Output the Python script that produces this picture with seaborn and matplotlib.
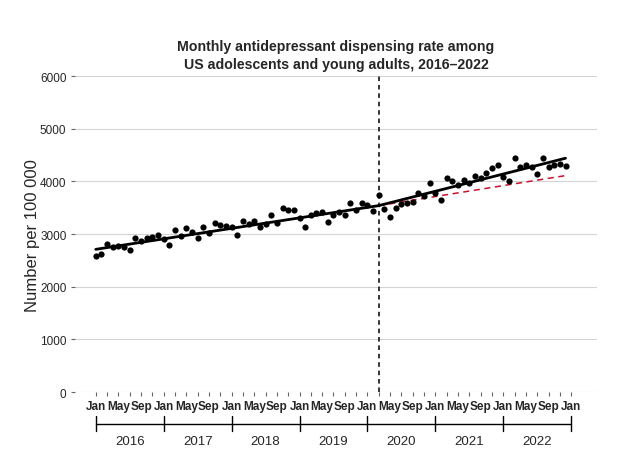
import numpy as np
import pandas as pd
import seaborn as sns
import matplotlib.pyplot as plt

# monthly dispensing rate per 100 000
rate_2016 = [2583, 2615, 2810, 2748, 2780, 2760, 2697, 2919, 2862, 2925, 2950, 2987]
rate_2017 = [2912, 2791, 3085, 2956, 3114, 3033, 2928, 3140, 3017, 3203, 3171, 3159]
rate_2018 = [3140, 2990, 3253, 3197, 3241, 3143, 3190, 3370, 3206, 3500, 3465, 3450]
rate_2019 = [3304, 3140, 3361, 3405, 3424, 3234, 3361, 3424, 3361, 3589, 3462, 3589]
rate_2020 = [3557, 3431, 3744, 3470, 3330, 3494, 3570, 3589, 3614, 3779, 3716, 3963]
rate_2021 = [3773, 3646, 4070, 4001, 3931, 4032, 3969, 4096, 4064, 4150, 4248, 4311]
rate_2022 = [4089, 4007, 4450, 4279, 4311, 4279, 4140, 4444, 4267, 4311, 4330, 4298]

years = ['2016', '2017', '2018', '2019', '2020', '2021', '2022']
month_labels = ['Jan', 'May', 'Sep']

# fitted segments (month index 0 = Jan 2016, 50 = Mar 2020, 83 = Dec 2022)
seg_pre_t = [0, 50]
seg_post_t = [50, 83]
trend_pre = [2710, 3540]
trend_post = [3540, 4440]
counterfactual = [3540, 4110]
interruption = 50

rates = rate_2016 + rate_2017 + rate_2018 + rate_2019 + rate_2020 + rate_2021 + rate_2022
months = pd.date_range('2016-01-01', periods=len(rates), freq='MS')
df = pd.DataFrame({'month': months, 't': np.arange(len(rates)), 'rate': rates})

sns.set_style('white')
plt.rcParams['font.family'] = ['Liberation Sans', 'DejaVu Sans']

fig = plt.figure(figsize=(6.34, 4.56), dpi=100)
ax = fig.add_axes([0.118, 0.138, 0.824, 0.693])

ax.yaxis.grid(True, color='#d4d4d4', linewidth=0.8)
ax.set_axisbelow(True)
sns.despine(ax=ax, left=True, bottom=True)

sns.lineplot(x=seg_post_t, y=counterfactual, color='#c8102e', linestyle=(0, (4, 3)), lw=1.1, ax=ax)
sns.lineplot(x=seg_pre_t, y=trend_pre, color='black', lw=2, ax=ax)
sns.lineplot(x=seg_post_t, y=trend_post, color='black', lw=2, ax=ax)
sns.scatterplot(data=df, x='t', y='rate', color='black', s=20, linewidth=0, ax=ax, zorder=3)
ax.axvline(interruption, color='black', linestyle=(0, (3, 2.5)), lw=1.1)

ax.set_xlim(-3.7, 88.6)
ax.set_ylim(0, 6000)
ax.set_yticks(range(0, 6001, 1000))
ax.set_xticks(range(0, 85, 4))
ax.set_xticklabels(month_labels * len(years) + ['Jan'], fontsize=8.5, fontweight='bold')
ax.set_xticks(range(0, 85, 2), minor=True)
ax.tick_params(axis='x', which='both', bottom=True, length=3, width=0.8, color='#666666', pad=3)
ax.tick_params(axis='y', left=True, length=3, width=0.8, color='#666666', labelsize=8.5, pad=3)
ax.set_xlabel('')
ax.set_ylabel('Number per 100 000', fontsize=12, labelpad=0)

# year bracket below the month labels
trans = ax.get_xaxis_transform()
ax.plot([0, 12 * len(years)], [-0.101, -0.101], transform=trans, clip_on=False, color='black', lw=1)
for i in range(len(years) + 1):
    ax.plot([12 * i, 12 * i], [-0.076, -0.123], transform=trans, clip_on=False, color='black', lw=1)
for i, yr in enumerate(years):
    ax.text(12 * i + 6, -0.156, yr, transform=trans, ha='center', va='center', fontsize=9.5)

ax.set_title('Monthly antidepressant dispensing rate among\nUS adolescents and young adults, 2016\u20132022',
             fontweight='bold', fontsize=10.2, pad=6, linespacing=1.3)

fig.savefig('out.png', dpi=100)
